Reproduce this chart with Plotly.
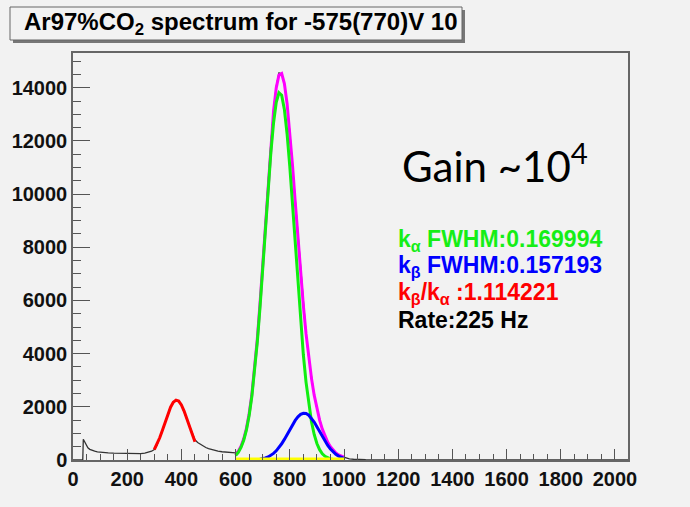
import plotly.graph_objects as go

# ---------------- data ----------------
data_ch = [0, 36, 38, 42, 48, 55, 62, 70, 80, 90, 100, 115, 130, 150, 170, 190, 210, 230,
           250, 265, 280, 290, 300, 310, 320, 330, 340, 350, 360, 370, 380, 390, 400, 410,
           420, 430, 440, 450, 460, 470, 480, 490, 500, 510, 520, 535, 550, 565, 580, 595,
           600, 610, 620, 630, 640, 650, 660, 670, 680, 690, 700, 710, 720, 730, 740, 750,
           760, 770, 780, 790, 800, 810, 820, 830, 840, 850, 860, 870, 880, 890, 900, 910,
           920, 930, 940, 950, 960, 970, 980, 990, 1000, 1010, 1020, 1035, 1050, 1080, 1120,
           1200, 1400, 1600, 1800, 2048]
data_val = [0, 0, 780, 700, 560, 460, 400, 360, 330, 305, 290, 275, 265, 255, 248, 242, 238, 235,
            242, 260, 290, 330, 390, 560, 840, 1090, 1420, 1690, 1970, 2150, 2260, 2190, 2070, 1800,
            1540, 1240, 950, 760, 660, 590, 520, 470, 430, 395, 365, 335, 310, 290, 278, 268,
            265, 340, 530, 800, 1200, 1750, 2480, 3400, 4560, 5890, 7380, 8950, 10500, 11880, 13150, 14050,
            14560, 14520, 14140, 13380, 12330, 11060, 9700, 8320, 7010, 5800, 4740, 3840, 3070, 2440, 1930, 1500,
            1160, 890, 670, 500, 365, 265, 190, 140, 100, 70, 45, 28, 18, 10, 6,
            4, 3, 2, 2, 2]

esc_ch = [300, 310, 320, 330, 340, 350, 360, 370, 380, 390, 400, 410, 420, 430, 440, 450]
esc_val = [395, 590, 835, 1120, 1428, 1728, 1987, 2170, 2250, 2215, 2071, 1839, 1551, 1242, 944, 683]

fit_ch = [600, 610, 620, 630, 640, 650, 660, 670, 680, 690, 700, 710, 720, 730, 740, 750,
          760, 770, 780, 790, 800, 810, 820, 830, 840, 850, 860, 870, 880, 890, 900, 910,
          920, 930, 940, 950, 960, 970, 980, 990, 1000]
ka_val = [171, 289, 471, 743, 1134, 1675, 2394, 3311, 4428, 5731, 7178, 8694, 10188, 11552, 12672, 13448,
          13809, 13718, 13186, 12260, 11029, 9600, 8084, 6586, 5190, 3958, 2921, 2084, 1440, 961, 621, 388,
          235, 138, 78, 43, 22, 11, 5, 2, 1]
kb_val = [0, 0, 0, 1, 1, 3, 4, 7, 18, 30, 48, 76, 116, 172, 247, 344,
          465, 610, 775, 956, 1142, 1324, 1488, 1622, 1715, 1758, 1747, 1683, 1573, 1426, 1253, 1067,
          882, 707, 549, 414, 302, 214, 147, 98, 63]
bg_val = [40] * 41
tot_val = [213, 332, 517, 796, 1189, 1738, 2467, 3391, 4539, 5870, 7352, 8920, 10466, 11853, 13109, 13995,
           14480, 14533, 14159, 13403, 12344, 11079, 9709, 8327, 7007, 5803, 4743, 3832, 3070, 2439, 1922, 1500,
           1160, 887, 668, 498, 364, 265, 192, 140, 104]

x_ticks = [0, 200, 400, 600, 800, 1000, 1200, 1400, 1600, 1800, 2000]
y_ticks = [0, 2000, 4000, 6000, 8000, 10000, 12000, 14000]

title_text = "Ar97%CO<sub>2</sub> spectrum for -575(770)V 10"
gain_text = "Gain ~10<sup>4</sup>"
stat_lines = [("k<sub>α</sub> FWHM:0.169994", "#16ee16"),
              ("k<sub>β</sub> FWHM:0.157193", "#0000ff"),
              ("k<sub>β</sub>/k<sub>α</sub> :1.114221", "#ff0000"),
              ("Rate:225 Hz", "#000000")]

# ---------------- layout helpers ----------------
W, H = 690, 507
L, R, T, B = 73, 628, 53, 460
BG = "#f2f2f2"


def px(x):
    return (x - L) / (R - L)


def py(y):
    return (B - y) / (B - T)


fig = go.Figure()
fig.add_trace(go.Scatter(x=data_ch, y=data_val, mode="lines",
                         line=dict(color="#333333", width=1.3), hoverinfo="skip"))
fig.add_trace(go.Scatter(x=fit_ch, y=tot_val, mode="lines",
                         line=dict(color="#ff00ff", width=3)))
fig.add_trace(go.Scatter(x=fit_ch, y=ka_val, mode="lines",
                         line=dict(color="#11ee11", width=3)))
fig.add_trace(go.Scatter(x=fit_ch, y=kb_val, mode="lines",
                         line=dict(color="#0000ff", width=3)))
fig.add_trace(go.Scatter(x=fit_ch, y=bg_val, mode="lines",
                         line=dict(color="#ffff00", width=3)))
fig.add_trace(go.Scatter(x=esc_ch, y=esc_val, mode="lines",
                         line=dict(color="#ff0000", width=3)))

tickfont = dict(family="Liberation Sans, Arial, sans-serif", size=20, color="#111111", weight="bold")

fig.update_xaxes(range=[0, 2048], tickvals=x_ticks, ticktext=[str(v) for v in x_ticks],
                 ticks="inside", ticklen=11, tickwidth=1.3, tickcolor="#555555",
                 minor=dict(dtick=50, tick0=0, ticks="inside", ticklen=6, tickcolor="#555555", tickwidth=1.3),
                 showline=True, linecolor="#666666", linewidth=1.5, mirror=True,
                 showgrid=False, zeroline=False, tickfont=tickfont)
fig.update_yaxes(range=[0, 15306], tickvals=y_ticks, ticktext=[str(v) for v in y_ticks],
                 ticks="inside", ticklen=17, tickwidth=1.3, tickcolor="#555555",
                 minor=dict(dtick=500, tick0=0, ticks="inside", ticklen=8, tickcolor="#555555", tickwidth=1.3),
                 showline=True, linecolor="#666666", linewidth=1.5, mirror=True,
                 showgrid=False, zeroline=False, tickfont=tickfont)

shapes = [
    dict(type="rect", xref="paper", yref="paper", x0=px(13), x1=px(465), y0=py(43), y1=py(10),
         fillcolor="#777777", line=dict(width=0), layer="above"),
    dict(type="rect", xref="paper", yref="paper", x0=px(10), x1=px(462), y0=py(40), y1=py(7),
         fillcolor=BG, line=dict(color="#666666", width=1), layer="above"),
]

annotations = [
    dict(xref="paper", yref="paper", x=px(22), y=py(23.5), xanchor="left", yanchor="middle",
         text="<b>" + title_text + "</b>", showarrow=False,
         font=dict(family="Liberation Sans, Arial, sans-serif", size=24, color="#000000")),
    dict(xref="paper", yref="paper", x=px(400), y=py(163), xanchor="left", yanchor="middle",
         text=gain_text, showarrow=False,
         font=dict(family="Lato, sans-serif", size=42, color="#000000")),
]
for i, (txt, col) in enumerate(stat_lines):
    annotations.append(dict(xref="paper", yref="paper", x=px(396), y=py(240 + 26.7 * i),
                            xanchor="left", yanchor="middle", text="<b>" + txt + "</b>",
                            showarrow=False,
                            font=dict(family="Liberation Sans, Arial, sans-serif", size=23, color=col)))

fig.update_layout(width=W, height=H, margin=dict(l=L, r=W - R, t=T, b=H - B),
                  paper_bgcolor=BG, plot_bgcolor=BG, showlegend=False,
                  shapes=shapes, annotations=annotations)

fig.write_html("out.html", config={"displayModeBar": False},
               post_script="document.body.style.margin='0';")
